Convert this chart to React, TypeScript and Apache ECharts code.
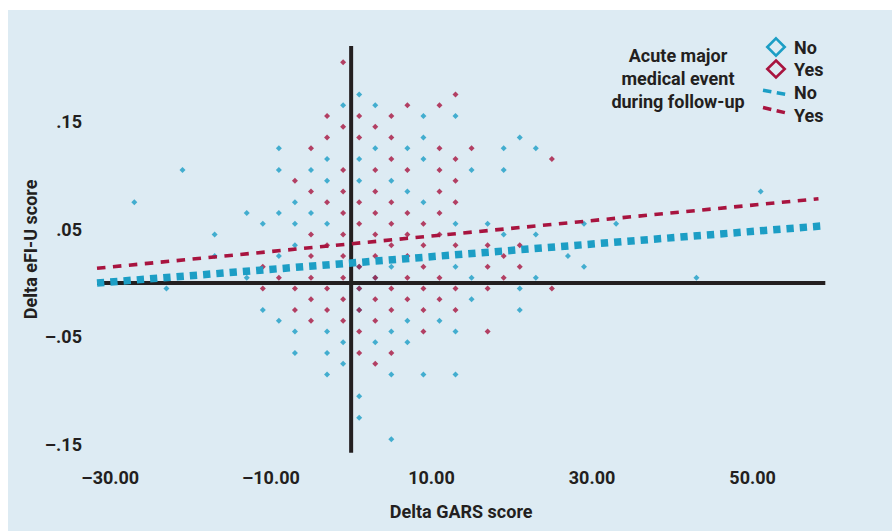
import React, { useEffect, useRef } from "react";
import * as echarts from "echarts";

// Axis ranges and tick labels
const xRange: [number, number] = [-31.65, 59.05];
const yRange: [number, number] = [-0.1575, 0.22];
const xTicks = [-30, -10, 10, 30, 50];
const yTicks = [0.15, 0.05, -0.05, -0.15];

// Delta GARS score (x) and Delta eFI-U score (y); No acute event
const noEvent: [number, number][] = [
  [1, 0.175],
  [-1, 0.165], [3, 0.165],
  [9, 0.155], [13, 0.155],
  [9, 0.135], [21, 0.135],
  [-9, 0.125], [3, 0.125], [7, 0.125], [19, 0.125], [23, 0.125],
  [-3, 0.115], [1, 0.115], [9, 0.115],
  [-21, 0.105], [-9, 0.105], [-5, 0.105], [15, 0.105], [19, 0.105],
  [-3, 0.095], [1, 0.095], [5, 0.095],
  [7, 0.085], [51, 0.085],
  [-27, 0.075], [-7, 0.075], [9, 0.075],
  [-13, 0.065], [-9, 0.065], [-5, 0.065],
  [-11, 0.055], [-7, 0.055], [-3, 0.055], [13, 0.055], [17, 0.055], [29, 0.055], [33, 0.055],
  [-17, 0.045], [19, 0.045], [23, 0.045],
  [-7, 0.035],
  [-17, 0.025], [-9, 0.025], [27, 0.025],
  [1, 0.015], [5, 0.015], [13, 0.015], [29, 0.015],
  [-13, 0.005], [3, 0.005], [15, 0.005], [23, 0.005], [43, 0.005],
  [-23, -0.005], [1, -0.005], [21, -0.005],
  [15, -0.015],
  [-11, -0.025], [1, -0.025], [21, -0.025],
  [-9, -0.035], [7, -0.035], [11, -0.035],
  [-7, -0.045], [-3, -0.045], [5, -0.045], [13, -0.045],
  [-1, -0.055], [3, -0.055], [7, -0.055],
  [-7, -0.065], [-3, -0.065],
  [-1, -0.075],
  [-3, -0.085], [5, -0.085], [9, -0.085], [13, -0.085],
  [1, -0.105],
  [1, -0.125],
  [5, -0.145],
];

// Acute major medical event = Yes
const yesEvent: [number, number][] = [
  [-1, 0.205],
  [13, 0.175],
  [7, 0.165], [11, 0.165],
  [-3, 0.155], [1, 0.155], [5, 0.155],
  [-1, 0.145], [3, 0.145],
  [-3, 0.135], [1, 0.135], [5, 0.135],
  [-5, 0.125], [11, 0.125], [15, 0.125],
  [5, 0.115], [13, 0.115], [25, 0.115],
  [-1, 0.105], [3, 0.105], [7, 0.105], [11, 0.105],
  [-7, 0.095], [13, 0.095],
  [-5, 0.085], [-1, 0.085], [3, 0.085], [11, 0.085],
  [-3, 0.075], [1, 0.075], [5, 0.075], [13, 0.075],
  [-1, 0.065], [3, 0.065], [7, 0.065], [11, 0.065],
  [1, 0.055], [5, 0.055], [9, 0.055],
  [-5, 0.045], [-1, 0.045], [3, 0.045], [7, 0.045], [11, 0.045],
  [-3, 0.035], [5, 0.035], [9, 0.035], [13, 0.035], [17, 0.035], [21, 0.035],
  [-5, 0.025], [-1, 0.025], [3, 0.025], [7, 0.025], [19, 0.025],
  [-11, 0.015], [1, 0.015], [9, 0.015], [17, 0.015], [21, 0.015],
  [-9, 0.005], [-5, 0.005], [-1, 0.005], [3, 0.005], [7, 0.005], [11, 0.005], [19, 0.005],
  [-11, -0.005], [-7, -0.005], [-3, -0.005], [1, -0.005], [5, -0.005], [9, -0.005], [13, -0.005], [17, -0.005], [25, -0.005],
  [-5, -0.015], [-1, -0.015], [3, -0.015], [7, -0.015], [11, -0.015],
  [-7, -0.025], [-3, -0.025], [1, -0.025], [5, -0.025], [9, -0.025], [13, -0.025],
  [-5, -0.035], [-1, -0.035], [3, -0.035],
  [1, -0.045], [9, -0.045], [17, -0.045],
  [1, -0.065], [5, -0.065],
  [3, -0.075],
];

// Fitted regression lines (endpoints)
const fitNo: [number, number][] = [[-31.65, 0.0], [58.5, 0.0529]];
const fitYes: [number, number][] = [[-31.65, 0.0137], [58.2, 0.0782]];

const BLUE = "#1c9ec5";
const RED = "#a8143f";
const INK = "#231f20";
const BG = "#ddebf3";
const FONT = "Roboto";

const dash = (v: number) => (v < 0 ? "\u2013" : "");

export default function App() {
  const ref = useRef<HTMLDivElement>(null);
  useEffect(() => {
    document.body.style.margin = "0";
    if (!ref.current) return;
    const chart = echarts.init(ref.current, undefined, { renderer: "svg" });
    const txt = { color: INK, fontFamily: FONT, fontWeight: "bold" as const, fontSize: 18 };
    chart.setOption({
      animation: false,
      backgroundColor: "#ffffff",
      grid: { left: 97, right: 66.7, top: 46, bottom: 78.3 },
      xAxis: {
        type: "value",
        min: xRange[0],
        max: xRange[1],
        axisLine: { show: false },
        axisTick: { show: false },
        splitLine: { show: false },
        axisLabel: {
          customValues: xTicks,
          margin: 16,
          ...txt,
          formatter: (v: number) => dash(v) + Math.abs(v).toFixed(2),
        },
        name: "Delta GARS score",
        nameLocation: "middle",
        nameGap: 50,
        nameMoveOverlap: false,
        nameTextStyle: txt,
      },
      yAxis: {
        type: "value",
        min: yRange[0],
        max: yRange[1],
        axisLine: { show: false },
        axisTick: { show: false },
        splitLine: { show: false },
        axisLabel: {
          customValues: yTicks,
          margin: 15,
          ...txt,
          formatter: (v: number) => dash(v) + Math.abs(v).toFixed(2).replace(/^0/, ""),
        },
        name: "Delta eFI-U score",
        nameLocation: "middle",
        nameGap: 58,
        nameRotate: 90,
        nameMoveOverlap: false,
        nameTextStyle: txt,
      },
      graphic: [
        {
          type: "rect",
          left: 8,
          top: 10,
          shape: { width: 884, height: 521 },
          style: { fill: BG },
          z: -100,
          silent: true,
        },
        {
          type: "text",
          x: 678,
          y: 43.5,
          style: {
            text: "Acute major\nmedical event\nduring follow-up",
            fill: INK,
            fontFamily: FONT,
            fontWeight: "bold",
            fontSize: 18,
            lineHeight: 23,
            align: "center",
            textAlign: "center",
            verticalAlign: "top",
            textVerticalAlign: "top",
          },
        },
        {
          type: "polygon",
          shape: { points: [[776, 38.3], [784.7, 47], [776, 55.7], [767.3, 47]] },
          style: { fill: "none", stroke: BLUE, lineWidth: 2.6 },
        },
        {
          type: "polygon",
          shape: { points: [[776, 60.5], [784.7, 69], [776, 77.5], [767.3, 69]] },
          style: { fill: "none", stroke: RED, lineWidth: 2.6 },
        },
        {
          type: "line",
          shape: { x1: 763, y1: 90.3, x2: 785.5, y2: 94.3 },
          style: { stroke: BLUE, lineWidth: 3.5, lineDash: [8.5, 5.5] },
        },
        {
          type: "line",
          shape: { x1: 763, y1: 107.5, x2: 785.5, y2: 112.8 },
          style: { stroke: RED, lineWidth: 3.5, lineDash: [8.5, 5.5] },
        },
        ...[
          ["No", 47],
          ["Yes", 69.5],
          ["No", 92.5],
          ["Yes", 115],
        ].map(([t, y]) => ({
          type: "text",
          x: 794,
          y: y as number,
          style: {
            text: t as string,
            fill: INK,
            fontFamily: FONT,
            fontWeight: "bold",
            fontSize: 18,
            align: "left",
            textAlign: "left",
            verticalAlign: "middle",
            textVerticalAlign: "middle",
          },
        })),
      ],
      series: [
        {
          type: "line",
          data: [[0, yRange[0]], [0, yRange[1]]],
          symbol: "none",
          lineStyle: { color: INK, width: 4 },
          silent: true,
          z: 1,
        },
        {
          type: "line",
          data: [[xRange[0], 0], [xRange[1], 0]],
          symbol: "none",
          lineStyle: { color: INK, width: 4 },
          silent: true,
          z: 1,
        },
        {
          name: "No",
          type: "scatter",
          data: noEvent,
          symbol: "diamond",
          symbolSize: 6,
          itemStyle: { color: BLUE },
          z: 2,
        },
        {
          name: "Yes",
          type: "scatter",
          data: yesEvent,
          symbol: "diamond",
          symbolSize: 6,
          itemStyle: { color: RED },
          z: 3,
        },
        {
          name: "No fit",
          type: "line",
          data: fitNo,
          symbol: "none",
          lineStyle: { color: BLUE, width: 7.5, type: [7.3, 6], cap: "butt" },
          z: 4,
        },
        {
          name: "Yes fit",
          type: "line",
          data: fitYes,
          symbol: "none",
          lineStyle: { color: RED, width: 3.6, type: [8.5, 7.5], cap: "butt" },
          z: 4,
        },
      ],
    });
    return () => chart.dispose();
  }, []);
  return <div ref={ref} style={{ width: 892, height: 531 }} />;
}
